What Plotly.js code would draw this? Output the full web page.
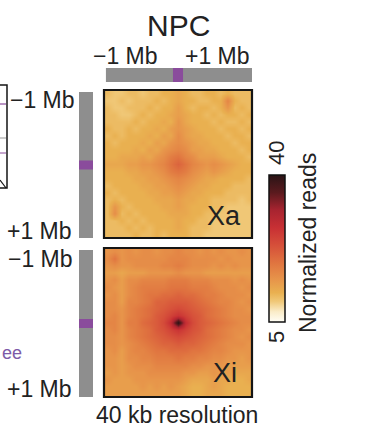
<!DOCTYPE html>
<html>
<head>
<meta charset="utf-8">
<script src="https://cdn.plot.ly/plotly-3.0.1.min.js"></script>
<style>html,body{margin:0;padding:0;background:#fff;}#chart{width:366px;height:446px;}</style>
</head>
<body>
<div id="chart"></div>
<script>
// ---- data ----
const panelTitle = 'NPC';
const panelNames = ['Xa', 'Xi'];
const tickLabels = ['−1 Mb', '+1 Mb'];
const resolutionLabel = '40 kb resolution';
const colorbarTitle = 'Normalized reads';
const colorRange = [5, 40];

// Xa aggregate map (rows top -> bottom), normalized reads
const xaValues = [
 [11,10,10,11,11,10,11,11,12,12,13,12,11,11,12,12,11,12,11,11,11],
 [10,10,11,10,11,11,11,12,11,12,13,12,12,11,11,12,12,17,12,11,11],
 [11,10,10,11,11,11,12,11,12,12,14,12,11,12,12,11,12,15,11,12,11],
 [11,11,10,10,11,12,11,12,12,13,14,13,12,12,11,12,11,12,12,11,12],
 [11,11,11,11,12,11,12,12,13,12,15,13,12,12,12,11,12,11,11,12,11],
 [12,11,11,12,11,12,12,13,12,14,15,14,13,12,12,12,11,12,12,11,12],
 [11,12,11,12,12,12,13,12,14,13,16,14,13,13,12,12,12,11,12,12,11],
 [12,11,12,12,12,13,12,14,13,15,16,15,14,13,13,12,12,12,11,12,12],
 [12,12,12,12,13,12,14,13,15,16,17,16,14,14,13,13,12,12,12,11,12],
 [12,12,13,13,13,14,13,15,16,18,19,17,16,14,14,14,13,12,12,12,11],
 [13,13,13,14,14,15,15,16,17,19,21,19,17,16,15,16,15,14,13,12,12],
 [12,12,12,13,13,14,14,15,16,18,19,18,16,15,14,15,14,13,12,12,12],
 [12,12,12,12,13,13,14,14,15,16,17,16,15,14,13,13,12,12,12,12,11],
 [11,12,12,12,12,13,13,14,14,15,16,15,14,13,13,12,12,12,11,11,11],
 [12,11,12,12,12,12,13,13,14,14,15,14,13,13,12,12,12,11,11,11,11],
 [11,12,11,12,12,12,12,13,13,13,14,13,13,12,12,11,11,11,11,10,11],
 [11,15,12,11,12,12,12,12,13,13,14,13,12,12,12,11,11,10,10,10,10],
 [11,16,11,12,11,12,12,12,12,13,13,13,12,12,11,11,10,10,10,10,10],
 [11,11,12,11,12,11,12,12,12,12,13,12,12,11,11,10,10,10,10,10,10],
 [11,11,11,12,11,12,11,12,12,12,13,12,11,11,11,10,10,10,10,10,10],
 [11,11,11,11,12,11,11,12,11,12,12,12,11,11,10,10,10,10,10,10,10]
];

// Xi aggregate map (rows top -> bottom), normalized reads
const xiValues = [
 [15,16,15,16,15,16,16,15,16,16,17,16,16,15,16,15,16,15,15,16,15],
 [16,19,15,16,16,16,16,16,16,17,17,17,16,16,16,16,15,16,15,15,15],
 [15,16,15,15,16,16,16,16,17,17,18,17,16,16,16,15,16,15,16,15,15],
 [14,14,13,14,14,14,15,15,15,15,16,15,15,15,14,14,14,14,14,14,14],
 [15,16,14,16,16,17,17,17,17,18,18,18,17,17,17,16,16,16,15,16,15],
 [16,15,14,16,17,18,18,18,18,19,19,19,18,18,18,17,16,16,16,15,16],
 [15,16,14,16,17,18,19,19,20,20,21,20,20,19,18,18,17,16,16,16,15],
 [16,16,14,17,17,18,19,21,21,22,22,22,21,20,19,18,17,17,16,15,16],
 [16,16,15,17,18,19,20,21,22,23,24,23,22,21,20,19,18,17,16,16,15],
 [16,17,15,17,18,19,20,22,23,25,27,25,23,22,20,19,18,17,16,16,16],
 [17,17,15,18,18,20,21,22,24,28,40,28,24,22,21,20,19,18,17,16,16],
 [16,17,15,17,18,19,20,22,23,25,27,25,23,22,20,19,18,17,16,16,15],
 [16,16,15,17,18,19,20,21,22,23,24,23,22,21,20,19,18,17,16,15,16],
 [16,16,15,16,17,18,19,20,21,21,22,21,21,20,19,18,17,16,16,16,15],
 [15,16,14,16,17,17,18,19,19,20,20,20,19,19,18,17,17,16,15,15,15],
 [15,15,14,16,16,17,17,18,18,18,19,18,18,17,17,16,16,15,15,14,15],
 [15,15,14,15,16,16,16,17,17,17,17,17,16,16,15,15,15,14,14,14,14],
 [14,15,14,15,15,15,16,16,16,16,16,15,15,14,14,15,14,14,13,13,13],
 [15,14,14,14,15,15,15,15,15,15,15,14,13,13,13,14,13,13,12,12,13],
 [14,14,14,14,14,15,14,15,14,15,14,13,12,12,13,14,13,12,12,12,12],
 [14,14,14,14,14,14,14,14,14,14,14,13,12,12,13,13,13,12,12,12,12]
];

// ---- styling ----
const W = 366, H = 446;
const px = v => v / W;
const py = v => 1 - v / H;
const FONT = 'Liberation Sans, Arial, Helvetica, sans-serif';
const TXT = '#222222';
const GRAY = '#8e8e8e';
const PURPLE = '#8a4c9c';

const colorscale = [
  [0, '#fffef6'], [0.07, '#faecc8'], [0.14, '#f0c878'], [0.2, '#e9b050'],
  [0.29, '#e7944a'], [0.4, '#e07540'], [0.52, '#d6503a'], [0.64, '#c83034'],
  [0.76, '#a82430'], [0.88, '#5a1a1e'], [1, '#2a1416']
];

const traces = [
  {
    type: 'heatmap', z: xaValues, xaxis: 'x', yaxis: 'y',
    colorscale: colorscale, zmin: colorRange[0], zmax: colorRange[1],
    zsmooth: 'best', showscale: true, hoverinfo: 'skip',
    colorbar: {
      x: px(269), xanchor: 'left', y: py(248.5), yanchor: 'middle',
      len: 147, lenmode: 'pixels', thickness: 16, thicknessmode: 'pixels',
      outlinewidth: 1.5, outlinecolor: '#111', showticklabels: false, ticks: '',
      xpad: 0, ypad: 0, borderwidth: 0
    }
  },
  {
    type: 'heatmap', z: xiValues, xaxis: 'x2', yaxis: 'y2',
    colorscale: colorscale, zmin: colorRange[0], zmax: colorRange[1],
    zsmooth: 'best', showscale: false, hoverinfo: 'skip'
  }
];

const hiddenAxis = {showticklabels: false, showgrid: false, zeroline: false, ticks: '', showline: false};
const xDom = [px(104), px(252)];

const shapes = [];
// heatmap borders
[['x', 'y'], ['x2', 'y2']].forEach(([xa, ya]) => {
  shapes.push({type: 'rect', xref: xa + ' domain', yref: ya + ' domain', x0: 0, x1: 1, y0: 0, y1: 1,
    line: {color: '#151515', width: 2.2}, fillcolor: 'rgba(0,0,0,0)', layer: 'above'});
});
// top coordinate bar
shapes.push({type: 'rect', xref: 'x domain', yref: 'paper', x0: 0.013, x1: 1, y0: py(82), y1: py(68),
  fillcolor: GRAY, line: {width: 0}});
shapes.push({type: 'rect', xref: 'x domain', yref: 'paper', x0: 0.466, x1: 0.534, y0: py(82), y1: py(68),
  fillcolor: PURPLE, line: {width: 0}});
// left coordinate bars
[['y', 92, 238], ['y2', 250, 397]].forEach(([ya, t, b]) => {
  shapes.push({type: 'rect', xref: 'paper', yref: 'paper', x0: px(79), x1: px(93), y0: py(b), y1: py(t),
    fillcolor: GRAY, line: {width: 0}});
  const c = (t + b) / 2;
  shapes.push({type: 'rect', xref: 'paper', yref: 'paper', x0: px(79), x1: px(93), y0: py(c + 4.5), y1: py(c - 4.5),
    fillcolor: PURPLE, line: {width: 0}});
});
// partial neighbouring panel on the left edge
shapes.push({type: 'rect', xref: 'paper', yref: 'paper', x0: px(-6), x1: px(7), y0: py(188), y1: py(85),
  line: {color: '#151515', width: 1.5}, fillcolor: 'rgba(0,0,0,0)'});
shapes.push({type: 'line', xref: 'paper', yref: 'paper', x0: 0, x1: px(6), y0: py(104), y1: py(104), line: {color: PURPLE, width: 1.2}});
shapes.push({type: 'line', xref: 'paper', yref: 'paper', x0: 0, x1: px(6), y0: py(138), y1: py(138), line: {color: '#999', width: 1}});
shapes.push({type: 'line', xref: 'paper', yref: 'paper', x0: 0, x1: px(6), y0: py(153), y1: py(153), line: {color: PURPLE, width: 1}});
shapes.push({type: 'line', xref: 'paper', yref: 'paper', x0: 0, x1: px(6), y0: py(180), y1: py(188), line: {color: '#151515', width: 1.2}});

function ann(text, x, y, size, opts) {
  return Object.assign({text: text, x: px(x), y: py(y), xref: 'paper', yref: 'paper', showarrow: false,
    xanchor: 'center', yanchor: 'middle', font: {family: FONT, size: size, color: TXT}}, opts || {});
}

const annotations = [
  ann(panelTitle, 178, 26, 30),
  ann(tickLabels[0], 125.5, 56, 23),
  ann(tickLabels[1], 217.5, 56, 23),
  ann(tickLabels[0], 77, 100, 23, {xanchor: 'right'}),
  ann(tickLabels[1], 74, 231, 23, {xanchor: 'right'}),
  ann(tickLabels[0], 75, 259, 23, {xanchor: 'right'}),
  ann(tickLabels[1], 74, 389, 23, {xanchor: 'right'}),
  ann(panelNames[0], 224, 216, 27),
  ann(panelNames[1], 225, 373, 27),
  ann(resolutionLabel, 177, 415, 23),
  ann(String(colorRange[1]), 276, 153, 22, {textangle: -90}),
  ann(String(colorRange[0]), 276, 337, 22, {textangle: -90}),
  ann(colorbarTitle, 308, 243, 23, {textangle: -90}),
  ann('ee', 0, 353, 18, {xanchor: 'left', font: {family: FONT, size: 18, color: '#7d5aa8'}})
];

const layout = {
  width: W, height: H, margin: {l: 0, r: 0, t: 0, b: 0, pad: 0},
  paper_bgcolor: '#fff', plot_bgcolor: '#fff', showlegend: false,
  xaxis: Object.assign({domain: xDom, anchor: 'y'}, hiddenAxis),
  yaxis: Object.assign({domain: [py(238), py(90)], anchor: 'x', autorange: 'reversed'}, hiddenAxis),
  xaxis2: Object.assign({domain: xDom, anchor: 'y2'}, hiddenAxis),
  yaxis2: Object.assign({domain: [py(397), py(248)], anchor: 'x2', autorange: 'reversed'}, hiddenAxis),
  shapes: shapes, annotations: annotations
};

Plotly.newPlot('chart', traces, layout, {staticPlot: true, displayModeBar: false});
</script>
</body>
</html>
